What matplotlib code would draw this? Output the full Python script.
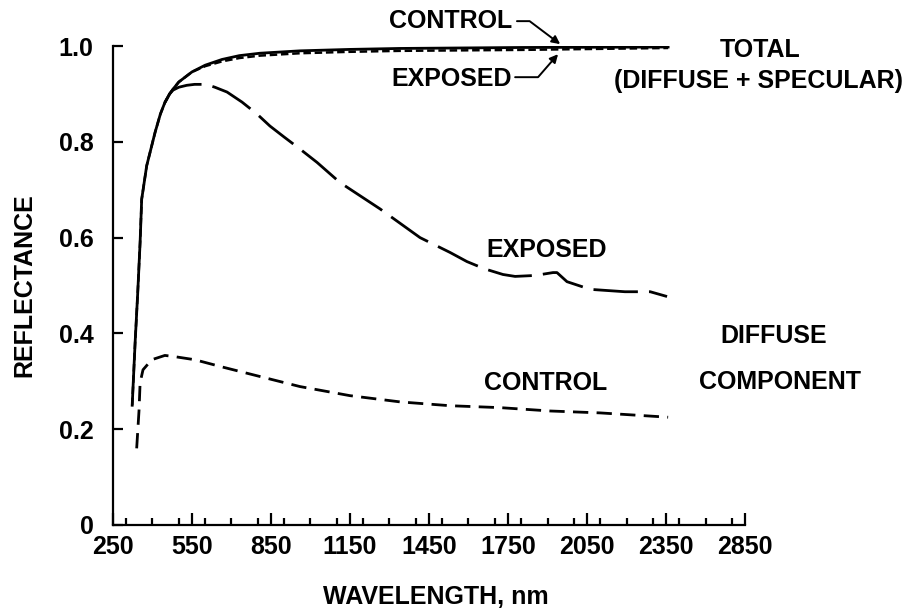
import matplotlib.pyplot as plt
from matplotlib.ticker import MultipleLocator

plt.rcParams['font.family'] = ['Liberation Sans', 'DejaVu Sans']
plt.rcParams['font.weight'] = 'bold'

# total reflectance (diffuse + specular)
wl_total = [323, 334, 344, 353, 359, 378, 410, 430, 447, 465, 478, 500, 550, 600, 664, 730, 808, 960, 1150, 1340, 1800, 2358]
total_control = [0.25, 0.38, 0.485, 0.59, 0.68, 0.75, 0.82, 0.858, 0.882, 0.9, 0.91, 0.925, 0.946, 0.96, 0.972, 0.98,
                 0.985, 0.99, 0.993, 0.995, 0.997, 0.998]
total_exposed = [0.25, 0.38, 0.485, 0.59, 0.68, 0.75, 0.82, 0.858, 0.882, 0.9, 0.91, 0.925, 0.946, 0.958, 0.968, 0.975,
                 0.98, 0.985, 0.988, 0.99, 0.992, 0.996]

# diffuse component
wl_diff_exp = [447, 465, 478, 500, 530, 560, 588, 615, 637, 683, 740, 797, 846, 900, 960, 1025, 1112, 1264, 1416, 1530,
               1594, 1660, 1731, 1777, 1853, 1921, 1936, 1974, 2062, 2194, 2290, 2354]
diffuse_exposed = [0.882, 0.9, 0.908, 0.914, 0.918, 0.92, 0.92, 0.918, 0.914, 0.904, 0.883, 0.858, 0.833, 0.81, 0.785,
                   0.757, 0.715, 0.66, 0.60, 0.569, 0.55, 0.535, 0.523, 0.519, 0.521, 0.527, 0.527, 0.508, 0.492,
                   0.487, 0.487, 0.477]

wl_diff_ctl = [340, 349, 353, 364, 397, 447, 478, 561, 664, 808, 960, 1150, 1340, 1530, 1720, 1910, 2100, 2358]
diffuse_control = [0.16, 0.24, 0.297, 0.324, 0.345, 0.354, 0.352, 0.345, 0.33, 0.31, 0.289, 0.27, 0.257, 0.249,
                   0.245, 0.238, 0.234, 0.225]

xtick_labels = ['250', '550', '850', '1150', '1450', '1750', '2050', '2350', '2850']
ytick_labels = ['0', '0.2', '0.4', '0.6', '0.8', '1.0']

fig = plt.figure(figsize=(9.2, 6.14), dpi=100)
ax = fig.add_axes([0.1228, 0.145, 0.687, 0.78])

ax.plot(wl_total, total_control, color='black', lw=2)
ax.plot(wl_total, total_exposed, color='black', lw=1.8, dashes=(3, 1.5))
ax.plot(wl_diff_exp, diffuse_exposed, color='black', lw=2, dashes=(16, 4))
ax.plot(wl_diff_ctl, diffuse_control, color='black', lw=2, dashes=(5.5, 3))

ax.set_xlim(250, 2650)
ax.set_ylim(0, 1.0)
ax.set_xticks(range(250, 2651, 300))
ax.set_xticklabels(xtick_labels)
ax.xaxis.set_minor_locator(MultipleLocator(100))
ax.set_yticks([0, 0.2, 0.4, 0.6, 0.8, 1.0])
ax.set_yticklabels(ytick_labels)

for s in ['top', 'right']:
    ax.spines[s].set_visible(False)
for s in ['left', 'bottom']:
    ax.spines[s].set_linewidth(1.6)

fs = 18
ax.tick_params(axis='x', which='major', direction='in', length=9, width=1.6, pad=7, labelsize=fs)
ax.tick_params(axis='x', which='minor', direction='in', length=5, width=1.6)
ax.tick_params(axis='y', direction='in', length=7, width=1.6, pad=14, labelsize=fs)

fig.text(0.474, 0.028, 'WAVELENGTH, nm', ha='center', va='center', fontsize=fs, fontweight='bold')
fig.text(0.027, 0.536, 'REFLECTANCE', ha='center', va='center', rotation=90, fontsize=fs, fontweight='bold')

ax.text(1765, 1.052, 'CONTROL', ha='right', va='center', fontsize=fs, clip_on=False)
ax.text(1765, 0.931, 'EXPOSED', ha='right', va='center', fontsize=fs, clip_on=False)
ax.text(2707, 0.992, 'TOTAL', ha='center', va='center', fontsize=fs, clip_on=False)
ax.text(2700, 0.927, '(DIFFUSE + SPECULAR)', ha='center', va='center', fontsize=fs, clip_on=False)
ax.text(1898, 0.575, 'EXPOSED', ha='center', va='center', fontsize=fs)
ax.text(1891, 0.297, 'CONTROL', ha='center', va='center', fontsize=fs)
ax.text(2760, 0.395, 'DIFFUSE', ha='center', va='center', fontsize=fs, clip_on=False)
ax.text(2783, 0.299, 'COMPONENT', ha='center', va='center', fontsize=fs, clip_on=False)

# pointer arrows to the total curves
ax.annotate('', xy=(1948, 1.004), xytext=(1784, 1.052), annotation_clip=False,
            arrowprops=dict(arrowstyle='-|>', color='black', lw=1.4, mutation_scale=12,
                            connectionstyle='angle,angleA=0,angleB=143,rad=0', shrinkA=0, shrinkB=0))
ax.annotate('', xy=(1940, 0.983), xytext=(1777, 0.935), annotation_clip=False,
            arrowprops=dict(arrowstyle='-|>', color='black', lw=1.4, mutation_scale=12,
                            connectionstyle='angle,angleA=0,angleB=49,rad=0', shrinkA=0, shrinkB=0))

fig.savefig('out.png', dpi=100)
